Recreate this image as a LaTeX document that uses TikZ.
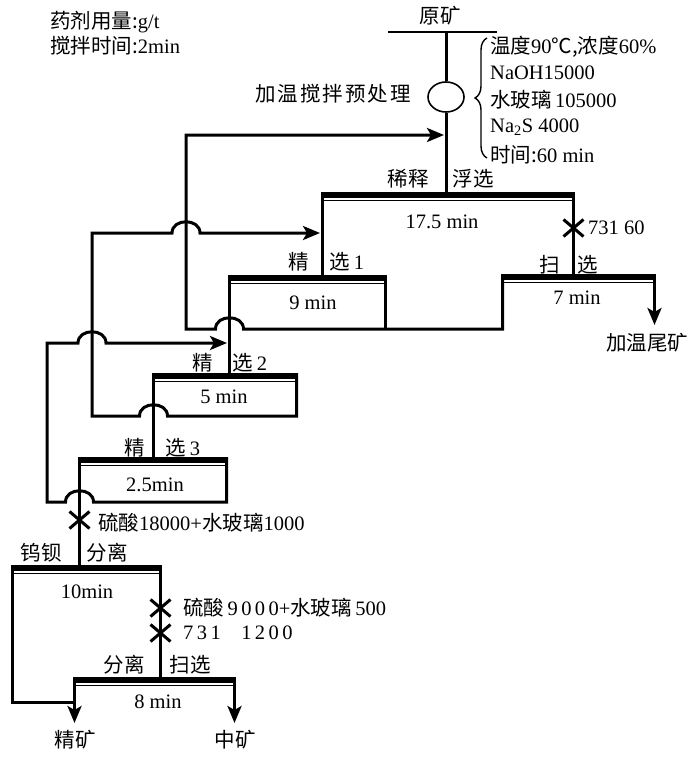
\documentclass[tikz,border=0pt]{standalone}
\usepackage{fontspec}
\setmainfont{Liberation Serif}
\newfontfamily\cjk{Noto Sans CJK SC}
\usetikzlibrary{arrows.meta,shapes.geometric,decorations.pathreplacing}
\newcommand\cellbar[3]{%
  \fill (#1,#3) rectangle (#2,#3+6);
  \draw[line width=1.5pt] (#1,#3+8.5) -- (#2,#3+8.5);}
\newcommand\crossmk[2]{%
  \draw[crossline] (#1-10,#2-8.5) -- (#1+10,#2+8.5) (#1-10,#2+8.5) -- (#1+10,#2-8.5);}
\begin{document}
\begin{tikzpicture}[x=1pt,y=-1pt,
  flow/.style={line width=3pt},
  arr/.style={flow,-{Stealth[length=17pt,width=14pt,inset=4pt]}},
  txt/.style={font=\fontsize{20.5}{24}\selectfont,inner sep=0pt},
  crossline/.style={line width=3pt}]
\useasboundingbox (0,0) rectangle (700,757);

% legend
\node[txt,anchor=west] (leg1) at (50,22) {{\cjk 药剂用量:}g/t};
\node[txt,anchor=west] (leg2) at (50,46) {{\cjk 搅拌时间:}2min};

% feed and pretreatment
\node[txt] (ore) at (440,16) {\cjk 原矿};
\draw[line width=2.5pt] (388,32) coordinate (oreL) -- (497,32) coordinate (oreR);
\coordinate (feedtop) at (446,32);
\node[draw,ellipse,line width=1.6pt,minimum width=36pt,minimum height=30pt,inner sep=0pt] (pre) at (446,97) {};
\node[txt] (pretxt) at (333,94) {\cjk\addfontfeature{LetterSpace=10}加温搅拌预处理};
\draw[flow] (feedtop) -- (pre.north);
\draw[line width=1.4pt,decorate,decoration={brace,amplitude=12pt}] (487,158) -- (487,38);
\node[txt,anchor=west] (c1) at (490,47) {{\cjk 温度}90{\cjk ℃,浓度}60\%};
\node[txt,anchor=west] (c2) at (490,73) {NaOH15000};
\node[txt,anchor=west] (c3) at (490,100) {{\cjk 水玻璃}\,105000};
\node[txt,anchor=west] (c4) at (490,127) {Na\textsubscript{2}S 4000};
\node[txt,anchor=west] (c5) at (490,155) {{\cjk 时间:}60 min};

% cell bars
\cellbar{321}{575}{192}
\cellbar{228}{387}{275}
\cellbar{501}{656}{274}
\cellbar{152}{298}{373}
\cellbar{78}{228}{457}
\cellbar{11}{162}{565}
\cellbar{73}{236}{677}

% rougher
\draw[flow] (pre.south) -- (446,192);
\node[txt] (r1) at (408,179) {\cjk 稀释};
\node[txt] (r2) at (473,179) {\cjk 浮选};
\node[txt] (rt) at (442,222) {17.5 min};
\draw[flow] (322.5,192) -- (322.5,275);
\draw[flow] (573.5,192) -- (573.5,274);
\crossmk{573.5}{228}
\node[txt,anchor=west] (rr) at (588,228) {731 60};

% cleaner 1
\node[txt] (k1a) at (299,262) {\cjk 精};
\node[txt] (k1b) at (347,262) {{\cjk 选}\,1};
\node[txt] (k1t) at (313,303) {9 min};
\draw[flow] (229.5,275) -- (229.5,373);
\draw[flow] (385.5,275) -- (385.5,329);

% scavenger
\node[txt] (s1) at (550,265) {\cjk 扫};
\node[txt] (s2) at (588,265) {\cjk 选};
\node[txt] (st) at (577,298) {7 min};
\draw[arr] (502.5,274) -- (502.5,329) -- (243.5,329)
  .. controls (243.5,314) and (215.5,314) .. (215.5,329)
  -- (186,329) -- (186,135) -- (444,135);
\draw[arr] (654.5,274) -- (654.5,325);
\node[txt] (tail) at (647,343) {\cjk 加温尾矿};

% cleaner 2
\node[txt] (k2a) at (203,363) {\cjk 精};
\node[txt] (k2b) at (250,363) {{\cjk 选}\,2};
\node[txt] (k2t) at (224,397) {5 min};
\draw[flow] (153.5,373) -- (153.5,457);
\draw[arr] (296.5,373) -- (296.5,416) -- (167.5,416)
  .. controls (167.5,401) and (139.5,401) .. (139.5,416)
  -- (92,416) -- (92,233) -- (172,233)
  .. controls (172,218) and (200,218) .. (200,233) -- (320,233);

% cleaner 3
\node[txt] (k3a) at (135,448) {\cjk 精};
\node[txt] (k3b) at (183,448) {{\cjk 选}\,3};
\node[txt] (k3t) at (155,485) {2.5min};
\draw[flow] (79.5,457) -- (79.5,565);
\draw[arr] (226.5,457) -- (226.5,502) -- (93.5,502)
  .. controls (93.5,487) and (65.5,487) .. (65.5,502)
  -- (47,502) -- (47,343) -- (78,343)
  .. controls (78,328) and (106,328) .. (106,343) -- (227,343);
\crossmk{79.5}{520}
\node[txt,anchor=west] (a1) at (98,523) {{\cjk 硫酸}18000+{\cjk 水玻璃}1000};

% W-Ba separation
\node[txt] (w1) at (41,553) {\cjk 钨钡};
\node[txt] (w2) at (107,553) {\cjk 分离};
\node[txt] (wt) at (87,592) {10min};
\draw[flow] (12.5,565) -- (12.5,702) -- (74.5,702);
\draw[flow] (160.5,565) -- (160.5,677);
\crossmk{160.5}{608}
\crossmk{160.5}{633}
\node[txt,anchor=west] (a2) at (183,608) {{\cjk 硫酸}\,9\,0\,0\,0+{\cjk 水玻璃}\,500};
\node[txt,anchor=west] (a3) at (183,633) {7\,3\,1\quad 1\,2\,0\,0};

% final separation
\node[txt] (f1) at (124,665) {\cjk 分离};
\node[txt] (f2) at (190,665) {\cjk 扫选};
\node[txt] (ft) at (158,702) {8 min};
\draw[arr] (74.5,677) -- (74.5,723);
\draw[arr] (234.5,677) -- (234.5,723);
\node[txt] (conc) at (75,740) {\cjk 精矿};
\node[txt] (mid) at (235,740) {\cjk 中矿};
\end{tikzpicture}
\end{document}
